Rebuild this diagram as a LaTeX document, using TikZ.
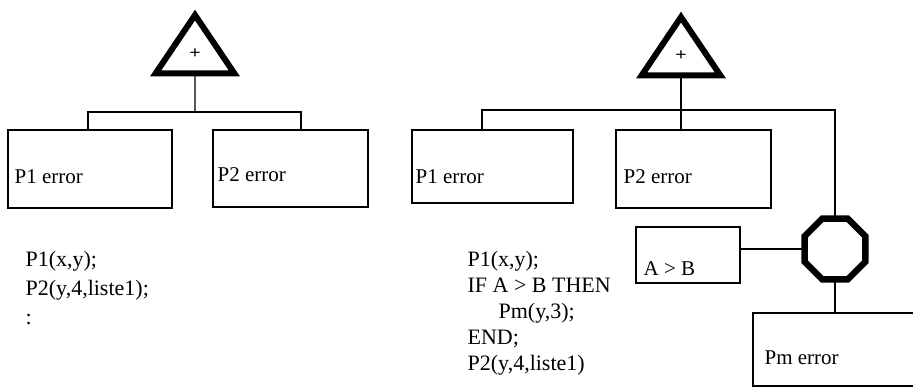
\documentclass[tikz,border=0pt]{standalone}
\usepackage{fontspec}
\setmainfont{Liberation Serif}
\usetikzlibrary{shapes.geometric}

\tikzset{
  errBox/.style={draw, line width=1.3pt, inner sep=0pt, outer sep=0pt},
  errLabel/.style={anchor=west, inner sep=0pt, font=\fontsize{21}{25}\selectfont},
  codeText/.style={anchor=north west, inner sep=0pt, align=left},
  orGate/.style={draw, regular polygon, regular polygon sides=3, line width=6pt,
    minimum size=91pt, inner sep=0pt, outer sep=0pt, yscale=0.855,
    font=\fontsize{20}{20}\selectfont\bfseries},
  inhibitGate/.style={draw, regular polygon, regular polygon sides=8,
    line width=6.5pt, minimum size=66pt, inner sep=0pt, outer sep=0pt},
}

\begin{document}
\begin{tikzpicture}[x=1pt, y=-1pt, line width=1.2pt]
  \useasboundingbox (0,0) rectangle (913,387);
  \clip (0,0) rectangle (913,387);

  % left tree: P1 and P2 under one OR gate
  \node[orGate] (lOr) at (195,54) {+};
  \node[errBox, minimum width=164pt, minimum height=78pt] (lP1) at (90,169) {};
  \node[errBox, minimum width=155pt, minimum height=77pt] (lP2) at (290.5,168.5) {};
  \node[errLabel] (lP1txt) at (14,177) {P1 error};
  \node[errLabel] (lP2txt) at (217,175) {P2 error};
  \coordinate (lBar) at (195,112);
  \draw (lOr.south) -- (lBar);
  \draw ([xshift=-2pt]lP1.north) |- (lBar) -| ([xshift=10.5pt]lP2.north);

  \node[codeText, font=\fontsize{22}{29}\selectfont] (lCode) at (25,251)
    {P1(x,y);\\P2(y,4,liste1);\\:};

  % right tree: Pm only under the condition A > B
  \node[orGate] (rOr) at (681,56) {+};
  \node[errBox, minimum width=161pt, minimum height=73pt] (rP1) at (492.5,166.5) {};
  \node[errBox, minimum width=155pt, minimum height=78pt] (rP2) at (693.5,169) {};
  \node[inhibitGate] (rInh) at (835,249) {};
  \node[errBox, minimum width=104pt, minimum height=56pt] (rCond) at (688,255) {};
  \node[errBox, minimum width=180pt, minimum height=73pt] (rPm) at (843,349.5) {};
  \node[errLabel] (rP1txt) at (415,177) {P1 error};
  \node[errLabel] (rP2txt) at (623,177) {P2 error};
  \node[errLabel] (rCondTxt) at (643,269) {A > B};
  \node[errLabel] (rPmTxt) at (764,358) {Pm error};
  \coordinate (rBar) at (681,110);
  \draw (rOr.south) -- (rOr.south |- rP2.north);
  \draw ([xshift=-10.5pt]rP1.north) |- (rBar) -| (rInh.north);
  \draw (rCond.east |- rInh.west) -- (rInh.west);
  \draw (rInh.south) -- (rInh.south |- rPm.north);

  \node[codeText, font=\fontsize{22}{26}\selectfont] (rCode) at (467,251)
    {P1(x,y);\\IF A > B THEN\\\hspace*{31pt}Pm(y,3);\\END;\\P2(y,4,liste1)};
\end{tikzpicture}
\end{document}
